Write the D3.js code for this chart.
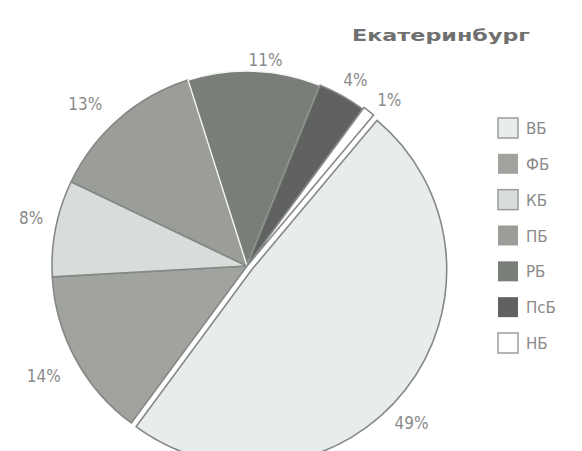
<!DOCTYPE html>
<html><head><meta charset="utf-8">
<script src="https://cdn.jsdelivr.net/npm/d3@7"></script>
<style>body{margin:0;background:#fff}svg{display:block}</style>
</head><body>
<svg id="c" width="582" height="451"></svg>
<script>
const categories = ["ВБ","ФБ","КБ","ПБ","РБ","ПсБ","НБ"];
const values = [49,14,8,13,11,4,1];
const labels = ["49%","14%","8%","13%","11%","4%","1%"];
const colors = ["#e8ecea","#a0a39e","#d8dcda","#9a9d98","#7a7e79","#5f625e","#ffffff"];
const title = "Екатеринбург";

const svg = d3.select("#c");
const cx = 247, cy = 266, R = 195;
const startDeg = 40;
const data = categories.map((c,i)=>({cat:c,v:values[i],lab:labels[i],col:colors[i]}));
const pie = d3.pie().value(d=>d.v).sort(null)
  .startAngle(startDeg*Math.PI/180).endAngle((startDeg+360)*Math.PI/180);
const arcs = pie(data);
const arc = d3.arc().innerRadius(0).outerRadius(R);
const labelArc = d3.arc().innerRadius(222).outerRadius(222);
// fine nudges for hand-placed labels of the original
const nudge = {"ВБ":[-10,20],"ФБ":[-8,4],"КБ":[2,-5],"ПБ":[-16,6],"РБ":[10,16],"ПсБ":[0,8],"НБ":[5,8]};

const g = svg.append("g").attr("transform",`translate(${cx},${cy})`);
const explode = {"ВБ":6,"НБ":2};
g.selectAll("path").data(arcs).join("path")
  .attr("d",arc)
  .attr("transform",d=>{
    const e = explode[d.data.cat]||0;
    const a = (d.startAngle+d.endAngle)/2;
    return `translate(${e*Math.sin(a)},${-e*Math.cos(a)})`;
  })
  .attr("fill",d=>d.data.col)
  .attr("stroke",d=>d.data.cat==="РБ"?"#f4f4f4":"#858985")
  .attr("stroke-width",d=>d.data.cat==="РБ"?1.5:1.6)
  .attr("stroke-linejoin","round");

g.selectAll("text.lab").data(arcs).join("text").attr("class","lab")
  .attr("x",d=>labelArc.centroid(d)[0]+nudge[d.data.cat][0])
  .attr("y",d=>labelArc.centroid(d)[1]+nudge[d.data.cat][1])
  .attr("text-anchor","middle").attr("dominant-baseline","central")
  .attr("font-family","'Liberation Sans Narrow','DejaVu Sans Condensed',sans-serif")
  .attr("font-size",17).attr("fill","#8a8a8a")
  .text(d=>d.data.lab);

svg.append("text").attr("x",352).attr("y",41)
  .attr("font-family","'DejaVu Sans',sans-serif").attr("font-weight","bold")
  .attr("font-size",16).attr("fill","#707070")
  .attr("textLength",178).attr("lengthAdjust","spacingAndGlyphs")
  .text(title);

const ly = d3.scalePoint().domain(categories).range([128,343]);
const lg = svg.append("g");
lg.selectAll("rect").data(data).join("rect")
  .attr("x",498).attr("y",d=>ly(d.cat)-10).attr("width",20).attr("height",20)
  .attr("fill",d=>d.col)
  .attr("stroke",d=>(d.cat==="ВБ"||d.cat==="КБ"||d.cat==="НБ")?"#9a9d9a":"none")
  .attr("stroke-width",1.5);
lg.selectAll("text").data(data).join("text")
  .attr("x",526).attr("y",d=>ly(d.cat)+1)
  .attr("dominant-baseline","central")
  .attr("font-family","'DejaVu Sans',sans-serif").attr("font-size",15)
  .attr("fill","#8a8a8a").text(d=>d.cat);
</script>
</body></html>
